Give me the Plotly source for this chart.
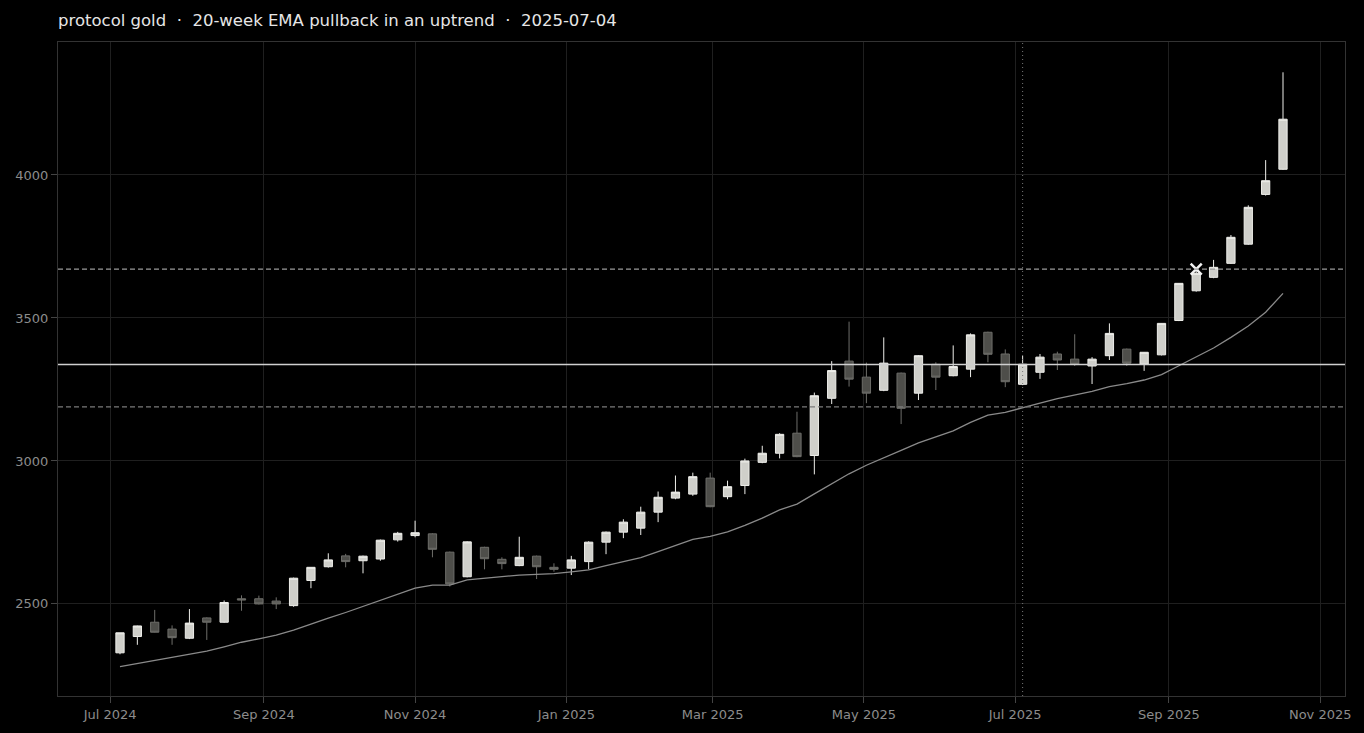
import pandas as pd
import plotly.graph_objects as go

# weekly bars, Friday closes
dates = pd.date_range("2024-07-05", periods=68, freq="7D")

opens = [2329, 2386, 2436, 2412, 2380, 2451, 2436, 2518, 2518, 2510,
         2494, 2582, 2630, 2668, 2651, 2657, 2724, 2739, 2745, 2681,
         2595, 2698, 2656, 2634, 2667, 2628, 2625, 2648, 2716, 2751,
         2765, 2821, 2870, 2884, 2940, 2875, 2914, 2995, 3027, 3097,
         3019, 3219, 3349, 3293, 3247, 3307, 3237, 3338, 3298, 3321,
         3450, 3374, 3268, 3310, 3374, 3356, 3332, 3368, 3391, 3339,
         3371, 3491, 3595, 3642, 3691, 3758, 3932, 4020]
highs = [2399, 2424, 2479, 2425, 2482, 2453, 2512, 2530, 2529, 2523,
         2592, 2629, 2677, 2675, 2669, 2725, 2752, 2791, 2747, 2683,
         2719, 2700, 2663, 2735, 2669, 2642, 2668, 2719, 2753, 2796,
         2840, 2893, 2949, 2959, 2959, 2931, 3008, 3053, 3097, 3172,
         3239, 3349, 3487, 3344, 3432, 3309, 3370, 3345, 3404, 3446,
         3452, 3390, 3367, 3374, 3382, 3443, 3363, 3481, 3393, 3381,
         3482, 3622, 3668, 3703, 3790, 3894, 4052, 4359]
lows = [2324, 2357, 2400, 2357, 2377, 2374, 2434, 2476, 2498, 2482,
        2490, 2555, 2627, 2628, 2607, 2651, 2718, 2733, 2663, 2561,
        2593, 2621, 2621, 2632, 2587, 2613, 2601, 2621, 2674, 2730,
        2741, 2786, 2866, 2878, 2838, 2866, 2884, 2992, 3009, 3013,
        2953, 3199, 3260, 3202, 3244, 3129, 3213, 3248, 3296, 3293,
        3345, 3258, 3265, 3287, 3318, 3332, 3269, 3353, 3332, 3315,
        3369, 3489, 3592, 3639, 3689, 3756, 3928, 4018]
closes = [2399, 2423, 2401, 2382, 2433, 2436, 2505, 2514, 2500, 2500,
          2590, 2628, 2654, 2648, 2667, 2723, 2747, 2749, 2691, 2570,
          2717, 2658, 2641, 2663, 2630, 2621, 2654, 2716, 2751, 2786,
          2821, 2873, 2891, 2945, 2840, 2910, 3000, 3027, 3093, 3015,
          3228, 3316, 3286, 3237, 3342, 3184, 3368, 3293, 3330, 3441,
          3373, 3277, 3338, 3363, 3353, 3338, 3356, 3446, 3342, 3380,
          3481, 3621, 3656, 3677, 3782, 3887, 3980, 4195]

ema20 = [2281, 2292, 2302, 2314, 2325, 2335, 2350, 2366, 2378, 2391,
         2408, 2430, 2450, 2470, 2491, 2512, 2533, 2555, 2566, 2566,
         2584, 2590, 2595, 2601, 2603, 2606, 2612, 2619, 2634, 2648,
         2662, 2683, 2705, 2726, 2736, 2752, 2775, 2800, 2829, 2849,
         2885, 2920, 2955, 2985, 3012, 3037, 3063, 3083, 3105, 3135,
         3160, 3170, 3185, 3202, 3218, 3230, 3243, 3260, 3270, 3283,
         3302, 3333, 3364, 3395, 3432, 3472, 3520, 3586]

signal_date = "2025-07-04"
entry_level = 3337
target_level = 3671
stop_level = 3189
hit_date = "2025-09-12"

fig = go.Figure()

fig.add_trace(go.Candlestick(
    x=dates, open=opens, high=highs, low=lows, close=closes,
    increasing=dict(line=dict(color="#eeeeea", width=1), fillcolor="#cfcfca"),
    decreasing=dict(line=dict(color="#6e6e6a", width=1), fillcolor="#4e4e4a"),
    whiskerwidth=0,
    showlegend=False,
    hoverinfo="skip",
))

# 20-week EMA
fig.add_trace(go.Scatter(
    x=dates, y=ema20, mode="lines",
    line=dict(color="#8a8a8a", width=1.3),
    showlegend=False, hoverinfo="skip",
))

# target hit marker
fig.add_trace(go.Scatter(
    x=[hit_date], y=[target_level], mode="markers",
    marker=dict(symbol="x-thin", size=11, line=dict(width=2.5, color="#f2f2f2")),
    showlegend=False, hoverinfo="skip",
))

fig.add_hline(y=entry_level, line=dict(color="#cfcfcf", width=1.6))
fig.add_hline(y=target_level, line=dict(color="#9a9a9a", width=1.3, dash="5px,3px"))
fig.add_hline(y=stop_level, line=dict(color="#7a7a7a", width=1.3, dash="5px,3px"))
fig.add_vline(x=signal_date, line=dict(color="#777777", width=1, dash="1px,3px"))

fig.update_layout(
    width=1364, height=733,
    paper_bgcolor="#000000",
    plot_bgcolor="#000000",
    font=dict(family="DejaVu Sans", color="#8c8c8c", size=13),
    title=dict(
        text="protocol gold  ·  20-week EMA pullback in an uptrend  ·  2025-07-04",
        x=58 / 1364, xanchor="left", y=0.972, yanchor="middle",
        font=dict(size=16.5, color="#e6e6e6"),
    ),
    margin=dict(l=58, r=19, t=42, b=37),
    boxgap=0.32,
    showlegend=False,
)

fig.update_xaxes(
    type="date",
    range=["2024-06-10", "2025-11-11"],
    dtick="M2", tick0="2024-07-01", tickformat="%b %Y",
    ticks="outside", ticklen=6, tickcolor="#444444",
    tickfont=dict(color="#8c8c8c", size=13),
    showgrid=True, gridcolor="#1f1f1f",
    showline=True, linecolor="#333333", mirror=True,
    rangeslider=dict(visible=False),
    zeroline=False,
)
fig.update_yaxes(
    range=[2178, 4465],
    tickvals=[2500, 3000, 3500, 4000],
    ticks="outside", ticklen=6, tickcolor="#444444",
    tickfont=dict(color="#8c8c8c", size=13),
    showgrid=True, gridcolor="#1f1f1f",
    showline=True, linecolor="#333333", mirror=True,
    zeroline=False,
)

fig.write_html(
    "out.html",
    config={"displayModeBar": False},
    post_script="document.body.style.margin='0';document.body.style.background='#000';",
)
